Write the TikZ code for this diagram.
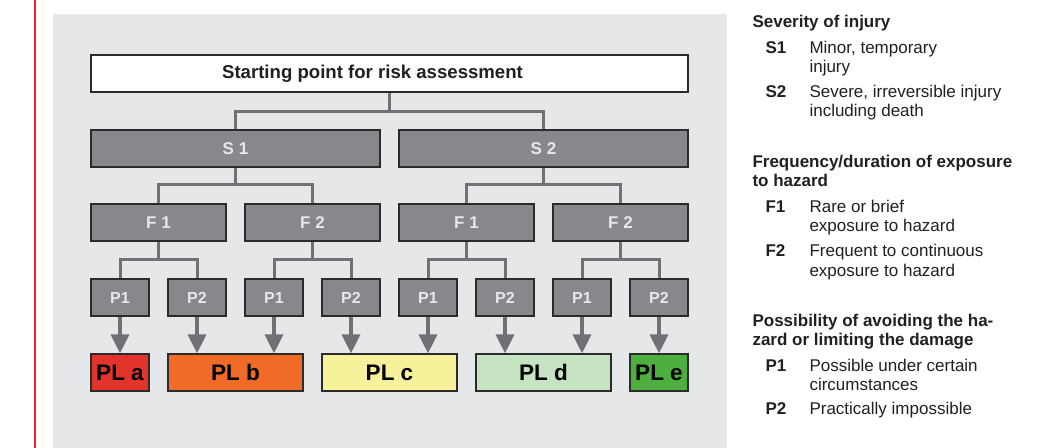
\documentclass[tikz,border=0pt]{standalone}
\usepackage{fontspec}
\setmainfont{Liberation Sans}
\usetikzlibrary{arrows.meta}
\definecolor{panel}{HTML}{E6E7E9}
\definecolor{boxgray}{HTML}{87888C}
\definecolor{boxline}{HTML}{2B2B2B}
\definecolor{conncol}{HTML}{707174}
\definecolor{boxtext}{HTML}{E8E8EA}
\definecolor{pla}{HTML}{E2342A}
\definecolor{plb}{HTML}{F06A28}
\definecolor{plc}{HTML}{F6F19A}
\definecolor{pld}{HTML}{C6E4C1}
\definecolor{ple}{HTML}{4CAF3E}
\definecolor{redline}{HTML}{E8262B}
\definecolor{txt}{HTML}{231F20}
\begin{document}
\begin{tikzpicture}[x=1bp,y=-1bp,
  box/.style={draw=boxline, line width=1.2bp, inner sep=0pt, minimum height=37bp},
  startbox/.style={box, fill=white, text=txt, minimum width=597bp,
    font=\bfseries\fontsize{18.6bp}{22bp}\selectfont},
  sbox/.style={box, fill=boxgray, text=boxtext, minimum width=289bp,
    font=\bfseries\fontsize{17bp}{20bp}\selectfont},
  fbox/.style={box, fill=boxgray, text=boxtext, minimum width=135bp,
    font=\bfseries\fontsize{17bp}{20bp}\selectfont},
  pbox/.style={box, fill=boxgray, text=boxtext, minimum width=58bp,
    font=\bfseries\fontsize{16bp}{19bp}\selectfont},
  plbox/.style={box, text=black, font=\bfseries\fontsize{22.5bp}{26bp}\selectfont},
  conn/.style={draw=conncol, line width=3bp},
  arr/.style={draw=conncol, line width=3.5bp, -{Triangle[width=18bp,length=19bp]}, fill=conncol},
  head/.style={anchor=base west, text=txt, font=\bfseries\fontsize{17bp}{20bp}\selectfont},
  lab/.style={anchor=base west, text=txt, font=\bfseries\fontsize{17bp}{20bp}\selectfont},
  desc/.style={anchor=base west, text=txt, font=\fontsize{17bp}{20bp}\selectfont}
]
\useasboundingbox (0,0) rectangle (1041,448);
% panel and red rule
\fill[panel] (53,14) rectangle (727,448);
\draw[redline, line width=1.5bp] (35,0) -- (35,448);

% boxes
\node[startbox] (start) at (389.5,73.5) {\hspace*{-34bp}Starting point for risk assessment};
\node[sbox] (s1) at (235.5,148.5) {S 1};
\node[sbox] (s2) at (543.5,148.5) {S 2};
\node[fbox] (f1a) at (158.5,222.5) {F 1};
\node[fbox] (f2a) at (312.5,222.5) {F 2};
\node[fbox] (f1b) at (466.5,222.5) {F 1};
\node[fbox] (f2b) at (620.5,222.5) {F 2};
\node[pbox] (p1a) at (120,297.5) {P1};
\node[pbox] (p2a) at (197,297.5) {P2};
\node[pbox] (p1b) at (274,297.5) {P1};
\node[pbox] (p2b) at (351,297.5) {P2};
\node[pbox] (p1c) at (428,297.5) {P1};
\node[pbox] (p2c) at (505,297.5) {P2};
\node[pbox] (p1d) at (582,297.5) {P1};
\node[pbox] (p2d) at (659,297.5) {P2};
\node[plbox, fill=pla, minimum width=58bp] (pla) at (120,372.5) {PL a};
\node[plbox, fill=plb, minimum width=135bp] (plb) at (235.5,372.5) {PL b};
\node[plbox, fill=plc, minimum width=135bp] (plc) at (389.5,372.5) {PL c};
\node[plbox, fill=pld, minimum width=135bp] (pld) at (543.5,372.5) {PL d};
\node[plbox, fill=ple, minimum width=58bp] (ple) at (659,372.5) {PL e};

% tree connectors
\draw[conn] (start.south) -- ++(0,19) coordinate (j0);
\draw[conn] (s1.north) |- (j0) -| (s2.north);
\draw[conn] (s1.south) -- ++(0,17) coordinate (j1);
\draw[conn] (f1a.north) |- (j1) -| (f2a.north);
\draw[conn] (s2.south) -- ++(0,17) coordinate (j2);
\draw[conn] (f1b.north) |- (j2) -| (f2b.north);
\draw[conn] (f1a.south) -- ++(0,18) coordinate (k1);
\draw[conn] (p1a.north) |- (k1) -| (p2a.north);
\draw[conn] (f2a.south) -- ++(0,18) coordinate (k2);
\draw[conn] (p1b.north) |- (k2) -| (p2b.north);
\draw[conn] (f1b.south) -- ++(0,18) coordinate (k3);
\draw[conn] (p1c.north) |- (k3) -| (p2c.north);
\draw[conn] (f2b.south) -- ++(0,18) coordinate (k4);
\draw[conn] (p1d.north) |- (k4) -| (p2d.north);

% arrows to PL
\draw[arr] (p1a.south) -- (p1a.south |- pla.north);
\draw[arr] (p2a.south) -- (p2a.south |- plb.north);
\draw[arr] (p1b.south) -- (p1b.south |- plb.north);
\draw[arr] (p2b.south) -- (p2b.south |- plc.north);
\draw[arr] (p1c.south) -- (p1c.south |- plc.north);
\draw[arr] (p2c.south) -- (p2c.south |- pld.north);
\draw[arr] (p1d.south) -- (p1d.south |- pld.north);
\draw[arr] (p2d.south) -- (p2d.south |- ple.north);

% legend
\node[head] (hs) at (749,28) {Severity of injury};
\node[lab] (ls1) at (762,54) {S1};
\node[desc] (ds1a) at (806,54) {Minor, temporary};
\node[desc] (ds1b) at (806,73) {injury};
\node[lab] (ls2) at (762,98) {S2};
\node[desc] (ds2a) at (806,98) {Severe, irreversible injury};
\node[desc] (ds2b) at (806,117) {including death};

\node[head] (hf1) at (749,168) {Frequency/duration of exposure};
\node[head] (hf2) at (749,187) {to hazard};
\node[lab] (lf1) at (762,213) {F1};
\node[desc] (df1a) at (806,213) {Rare or brief};
\node[desc] (df1b) at (806,232) {exposure to hazard};
\node[lab] (lf2) at (762,257) {F2};
\node[desc] (df2a) at (806,257) {Frequent to continuous};
\node[desc] (df2b) at (806,277) {exposure to hazard};

\node[head] (hp1) at (749,327) {Possibility of avoiding the ha-};
\node[head] (hp2) at (749,346) {zard or limiting the damage};
\node[lab] (lp1) at (762,372) {P1};
\node[desc] (dp1a) at (806,372) {Possible under certain};
\node[desc] (dp1b) at (806,391) {circumstances};
\node[lab] (lp2) at (762,415) {P2};
\node[desc] (dp2a) at (806,415) {Practically impossible};
\end{tikzpicture}
\end{document}
